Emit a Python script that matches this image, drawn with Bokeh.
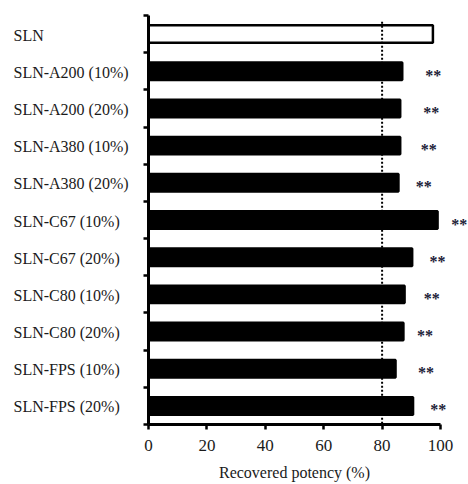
from bokeh.plotting import figure
from bokeh.layouts import row, column
from bokeh.models import Range1d, FixedTicker, LinearAxis, ColumnDataSource
from bokeh.core.properties import value
from bokeh.embed import file_html
from bokeh.resources import INLINE

categories = ["SLN", "SLN-A200 (10%)", "SLN-A200 (20%)", "SLN-A380 (10%)", "SLN-A380 (20%)",
              "SLN-C67 (10%)", "SLN-C67 (20%)", "SLN-C80 (10%)", "SLN-C80 (20%)",
              "SLN-FPS (10%)", "SLN-FPS (20%)"]
potency = [97.4, 86.9, 86.2, 86.2, 85.6, 99.0, 90.3, 87.7, 87.3, 84.6, 90.6]
sig_labels = ["", "**", "**", "**", "**", "**", "**", "**", "**", "**", "**"]
sig_marker_x = [97.4, 97.5, 96.8, 96.0, 94.3, 106.4, 99.0, 97.0, 94.7, 95.0, 99.2]
x_ticks = [0, 20, 40, 60, 80, 100]
threshold = 80
x_title = "Recovered potency (%)"

FONT = "Liberation Serif"
TXT = "#1a1a1a"
n = len(categories)
centers = [i + 0.5 for i in range(n)]
fills = ["white"] + ["black"] * (n - 1)

src = ColumnDataSource(dict(y=centers, v=potency, cat=categories, fill=fills))
sig_idx = [i for i, s in enumerate(sig_labels) if s]
sig_src = ColumnDataSource(dict(y=[centers[i] for i in sig_idx],
                                sx=[sig_marker_x[i] for i in sig_idx],
                                sig=[sig_labels[i] for i in sig_idx]))

LAB_W = 134          # width of the category-label column
PX_PER_UNIT = 2.92   # horizontal scale of the value axis
MAIN_W = 468 - LAB_W
FRAME_LEFT = 148
MAIN_H = 460
TOP, BOTTOM = 15, 36

y_range = Range1d(n, 0)


def clean(fig):
    fig.outline_line_color = None
    fig.xgrid.visible = False
    fig.ygrid.visible = False
    fig.background_fill_color = "white"
    fig.border_fill_color = "white"


# ---- main plot ----
frame_w = MAIN_W - (FRAME_LEFT - LAB_W)
p = figure(width=MAIN_W, height=MAIN_H, output_backend="svg", toolbar_location=None,
           x_range=Range1d(0, frame_w / PX_PER_UNIT), y_range=y_range,
           x_axis_location=None, y_axis_location=None,
           min_border_left=FRAME_LEFT - LAB_W, min_border_right=0,
           min_border_top=TOP, min_border_bottom=BOTTOM)
clean(p)

xa = LinearAxis(ticker=FixedTicker(ticks=x_ticks), bounds=(0, 100))
xa.axis_line_width = 3
xa.major_tick_line_width = 2.5
xa.major_tick_out = 5
xa.major_tick_in = 0
xa.minor_tick_line_color = None
xa.major_label_text_font = FONT
xa.major_label_text_font_size = "17px"
xa.major_label_text_color = TXT
xa.major_label_standoff = 10
p.add_layout(xa, "below")

ya = LinearAxis(ticker=FixedTicker(ticks=list(range(n + 1))))
ya.axis_line_width = 3
ya.major_tick_line_width = 2.5
ya.major_tick_out = 5
ya.major_tick_in = 0
ya.minor_tick_line_color = None
ya.major_label_text_color = None
ya.major_label_standoff = 0
p.add_layout(ya, "left")

p.hbar(y="y", left=0, right="v", height=0.47, source=src,
       fill_color="fill", line_color="black", line_width=2.5)

p.segment(x0=[threshold], x1=[threshold], y0=[0.17], y1=[n],
          line_color="black", line_width=2, line_dash="2 2")

p.text(x="sx", y="y", text="sig", source=sig_src, text_align="center", text_baseline="middle",
       text_font=value(FONT), text_font_style="bold", text_font_size="16px",
       text_color="#1c2238", y_offset=4)

# ---- category labels column ----
lab = figure(width=LAB_W, height=MAIN_H, output_backend="svg", toolbar_location=None,
             x_range=Range1d(0, LAB_W), y_range=y_range,
             x_axis_location=None, y_axis_location=None,
             min_border_left=0, min_border_right=0,
             min_border_top=TOP, min_border_bottom=BOTTOM)
clean(lab)
lab.text(x=13, y="y", text="cat", source=src, text_align="left", text_baseline="middle",
         text_font=value(FONT), text_font_size="16px", text_color=TXT, y_offset=1)

# ---- axis title strip ----
TITLE_H = 484 - MAIN_H
t = figure(width=468, height=TITLE_H, output_backend="svg", toolbar_location=None,
           x_range=Range1d(-FRAME_LEFT / PX_PER_UNIT, (468 - FRAME_LEFT) / PX_PER_UNIT),
           y_range=Range1d(0, TITLE_H),
           x_axis_location=None, y_axis_location=None, min_border=0)
clean(t)
t.text(x=[sum(x_ticks[::len(x_ticks) - 1]) / 2], y=[TITLE_H / 2], text=[x_title],
       text_align="center", text_baseline="middle", text_font=value(FONT),
       text_font_size="16px", text_color=TXT)

layout = column(row(lab, p), t)
open("out.html", "w").write(file_html(layout, INLINE))
